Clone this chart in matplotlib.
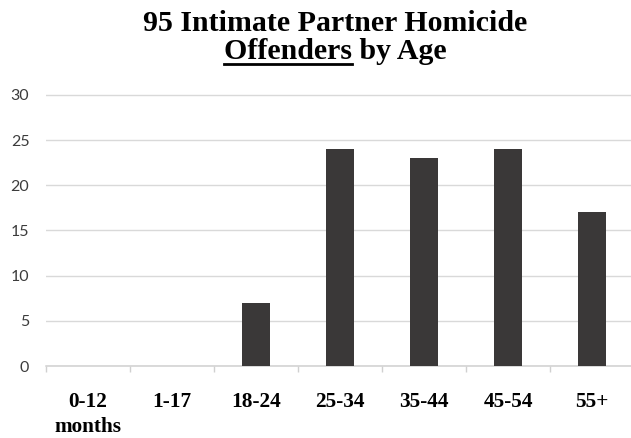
import matplotlib
matplotlib.use("Agg")
import matplotlib.pyplot as plt
from matplotlib.lines import Line2D

categories = ["0-12\nmonths", "1-17", "18-24", "25-34", "35-44", "45-54", "55+"]
values = [0, 0, 7, 24, 23, 24, 17]
yticks = [0, 5, 10, 15, 20, 25, 30]
title_line1 = "95 Intimate Partner Homicide"
title_under = "Offenders"
title_rest = " by Age"

W, H = 631, 438
fig = plt.figure(figsize=(W / 100, H / 100), dpi=100)

ymax = 30.2
px_per_unit = (366 - 95) / 30.0
ax_h = ymax * px_per_unit
ax = fig.add_axes([46 / W, (H - 366) / H, 588 / W, ax_h / H])

x = list(range(len(categories)))
ax.bar(x, values, width=0.33, color="#3a3838", zorder=3)
ax.set_xlim(-0.5, len(categories) - 0.5)
ax.set_ylim(0, ymax)
ax.set_yticks(yticks)
ax.set_yticklabels([str(v) for v in yticks])
ax.yaxis.grid(True, color="#d9d9d9", linewidth=1.0, zorder=0)
ax.set_axisbelow(True)
for s in ["top", "right", "left"]:
    ax.spines[s].set_visible(False)
ax.spines["bottom"].set_color("#d0d0d0")
ax.spines["bottom"].set_linewidth(1.1)

ax.set_xticks(x)
ax.set_xticklabels(categories, fontfamily="Liberation Serif", fontweight="bold",
                   fontsize=15.3, color="black", linespacing=1.3)
ax.tick_params(axis="x", which="major", length=0, pad=19)
ax.set_xticks([i - 0.5 for i in range(len(categories) + 1)], minor=True)
ax.tick_params(axis="x", which="minor", length=4, color="#d0d0d0", width=1)
ax.tick_params(axis="y", length=0, pad=12, labelsize=11.5, labelcolor="#3c3c3c")
for lab in ax.get_yticklabels():
    lab.set_fontfamily("Lato")

cx = 335 / W
fig.text(cx, (H - 31) / H, title_line1, ha="center", va="baseline",
         fontfamily="Liberation Serif", fontweight="bold", fontsize=21.5)
t2 = fig.text(cx, (H - 59) / H, title_under + title_rest, ha="center", va="baseline",
              fontfamily="Liberation Serif", fontweight="bold", fontsize=21.5)

fig.canvas.draw()
r = fig.canvas.get_renderer()
bb = t2.get_window_extent(r)
tmp = fig.text(0, 0, title_under, fontfamily="Liberation Serif", fontweight="bold",
               fontsize=21.5)
w_under = tmp.get_window_extent(r).width
tmp.remove()
x0 = bb.x0 / W
x1 = (bb.x0 + w_under) / W
yu = (H - 63.5) / H
fig.add_artist(Line2D([x0, x1], [yu, yu], transform=fig.transFigure,
                      color="black", linewidth=2.0))

fig.savefig("out.png", dpi=100)
